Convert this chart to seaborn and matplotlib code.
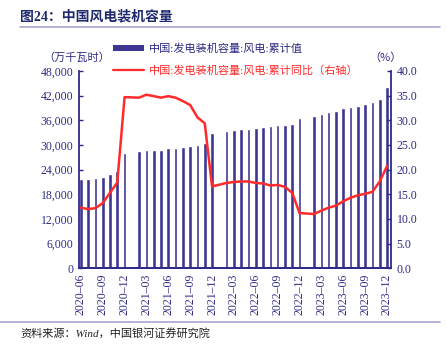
import numpy as np
import pandas as pd
import seaborn as sns
import matplotlib
matplotlib.use("Agg")
import matplotlib.pyplot as plt
from matplotlib.patches import Patch
from matplotlib.lines import Line2D

# ---------------- data ----------------
months = ["2020-06", "2020-07", "2020-08", "2020-09", "2020-10", "2020-11", "2020-12",
          "2021-01", "2021-02", "2021-03", "2021-04", "2021-05", "2021-06", "2021-07",
          "2021-08", "2021-09", "2021-10", "2021-11", "2021-12",
          "2022-01", "2022-02", "2022-03", "2022-04", "2022-05", "2022-06", "2022-07",
          "2022-08", "2022-09", "2022-10", "2022-11", "2022-12",
          "2023-01", "2023-02", "2023-03", "2023-04", "2023-05", "2023-06", "2023-07",
          "2023-08", "2023-09", "2023-10", "2023-11", "2023-12"]
# cumulative capacity (万千瓦), None = no data (January)
capacity = [21650, 21700, 22060, 22300, 22940, 23590, 28150,
            None, 28440, 28680, 28750, 28800, 29170, 29320,
            29530, 29730, 29970, 30460, 32850,
            None, 33450, 33690, 33770, 33940, 34180, 34340,
            34500, 34820, 34980, 35150, 36540,
            None, 37170, 37570, 37970, 38300, 38940, 39350,
            39590, 40000, 40390, 41210, 44130]
# cumulative yoy (%)
yoy = [12.3, 12.0, 12.2, 13.2, 15.3, 17.4, 34.7,
       None, 34.6, 35.2, 34.9, 34.6, 34.9, 34.6,
       33.9, 33.1, 30.6, 29.4, 16.6,
       None, 17.3, 17.5, 17.6, 17.6, 17.3, 17.2,
       16.8, 16.9, 16.5, 15.3, 11.2,
       None, 11.0, 11.7, 12.3, 12.7, 13.6, 14.3,
       14.8, 15.1, 15.5, 17.6, 20.7]
left_ticks = [0, 6000, 12000, 18000, 24000, 30000, 36000, 42000, 48000]
right_ticks = [0, 5, 10, 15, 20, 25, 30, 35, 40]
bar_label = "中国:发电装机容量:风电:累计值"
line_label = "中国:发电装机容量:风电:累计同比（右轴）"
title = "图24：中国风电装机容量"
source = "资料来源：Wind，中国银河证券研究院"

# ---------------- style ----------------
sns.set_style("white")
plt.rcParams['font.family'] = ['Liberation Serif', 'Noto Sans CJK SC', 'DejaVu Sans']
CJK = ['Noto Sans CJK SC', 'Liberation Serif', 'DejaVu Sans']

NAVY = "#2E2A85"
BAR = "#3D3592"
RED = "#FF2B2B"

df = pd.DataFrame({"month": months, "capacity": capacity, "yoy": yoy,
                   "pos": np.arange(len(months))})
df_bar = df.dropna(subset=["capacity"])
df_line = df.dropna(subset=["yoy"])

fig = plt.figure(figsize=(4.47, 3.52), dpi=100)
ax = fig.add_axes([79 / 447, 1 - 268.3 / 352, (391 - 79) / 447, (268.3 - 71) / 352])

sns.barplot(data=df_bar, x="month", y="capacity", order=months, color=BAR,
            saturation=1, width=0.5, ax=ax)
ax2 = ax.twinx()
sns.lineplot(data=df_line, x="pos", y="yoy", color=RED, linewidth=1.8, ax=ax2)

ax.set_xlim(-0.25, 42.55)
ax.set_ylim(0, 48000)
ax2.set_ylim(0, 40)
ax.set_yticks(left_ticks)
ax.set_yticklabels([f"{v:,}" for v in left_ticks])
ax2.set_yticks(right_ticks)
ax2.set_yticklabels([f"{v:.1f}" for v in right_ticks])
xt = list(range(0, len(months), 3))
ax.set_xticks(xt)
ax.set_xticklabels([months[i].replace("-", "–") for i in xt], rotation=90)

for a in (ax, ax2):
    a.set_xlabel("")
    a.set_ylabel("")
    a.grid(False)
    a.spines["top"].set_visible(False)
    for s in ("left", "right", "bottom"):
        a.spines[s].set_color(NAVY)
        a.spines[s].set_linewidth(1.3)
    a.tick_params(axis="both", direction="in", length=3, width=1, color=NAVY,
                  labelcolor=NAVY, labelsize=8.5, pad=3)
ax.spines["right"].set_visible(False)
ax2.spines["left"].set_visible(False)
ax.tick_params(axis="y", pad=4)
ax2.tick_params(axis="y", pad=4)
ax.tick_params(axis="x", pad=4)

# legend
handles = [Patch(facecolor=BAR, edgecolor="none"),
           Line2D([0], [0], color=RED, linewidth=1.6)]
leg = fig.legend(handles, [bar_label, line_label], loc="upper left",
                 bbox_to_anchor=(107 / 447, 1 - 38 / 352), frameon=False,
                 fontsize=8, handlelength=2.8, handleheight=0.45,
                 handletextpad=0.45, labelspacing=1.0, borderpad=0)
leg.get_texts()[0].set_color(NAVY)
leg.get_texts()[1].set_color(RED)
leg.get_texts()[1].set_family(['Liberation Serif', 'Noto Sans CJK SC'])

# units
fig.text(77 / 447, 1 - 58 / 352, "（万千瓦时）", ha="center", va="center",
         fontsize=8, color=NAVY, family=CJK)
fig.text(385 / 447, 1 - 58 / 352, "（%）", ha="center", va="center",
         fontsize=8, color=NAVY, family=CJK)

# title and rules
fig.text(20 / 447, 1 - 17 / 352, title, ha="left", va="center", fontsize=10,
         fontweight="bold", color="#1F2A6E")
fig.add_artist(Line2D([20 / 447, 440 / 447], [1 - 27 / 352, 1 - 27 / 352],
                      color="#A9A6D0", linewidth=1.2))
fig.add_artist(Line2D([0 / 447, 440 / 447], [1 - 322 / 352, 1 - 322 / 352],
                      color="#A9A6D0", linewidth=1.2))
fig.text(20 / 447, 1 - 333 / 352, source, ha="left", va="center", fontsize=8,
         style="italic", color="#222222")

fig.savefig("out.png", dpi=100)
